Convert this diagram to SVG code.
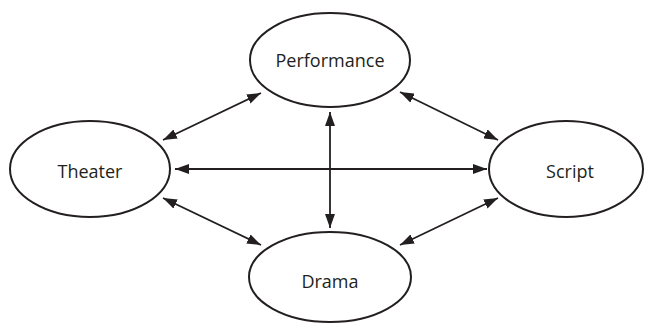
<svg xmlns="http://www.w3.org/2000/svg" width="646" height="324" viewBox="0 0 646 324">
<style>
.node ellipse{fill:#fff;stroke:#231f20;stroke-width:2}
.node text{font-family:"Open Sans","Noto Sans",sans-serif;font-size:18px;fill:#231f20;text-anchor:middle;dominant-baseline:central}
.edge{stroke:#231f20;stroke-width:1.8;fill:none;marker-start:url(#a);marker-end:url(#a)}
</style>
<defs>
<marker id="a" viewBox="0 0 14 10" refX="14" refY="5" markerWidth="14" markerHeight="10" markerUnits="userSpaceOnUse" orient="auto-start-reverse">
<path d="M0,0 L14,5 L0,10 z" fill="#231f20"/>
</marker>
</defs>
<g id="connectors">
<line class="edge" x1="163" y1="140" x2="261" y2="93"/>
<line class="edge" x1="400" y1="92" x2="498" y2="140"/>
<line class="edge" x1="163" y1="198" x2="261" y2="245"/>
<line class="edge" x1="400" y1="245" x2="498" y2="198"/>
<line class="edge" x1="175" y1="169" x2="487" y2="169"/>
<line class="edge" x1="330" y1="112" x2="330" y2="228"/>
</g>
<g id="performance" class="node"><ellipse cx="330" cy="60" rx="80" ry="47"/><text x="330" y="60">Performance</text></g>
<g id="theater" class="node"><ellipse cx="90" cy="169" rx="80" ry="48"/><text x="90" y="171">Theater</text></g>
<g id="script" class="node"><ellipse cx="566" cy="169" rx="77" ry="48"/><text x="570" y="171">Script</text></g>
<g id="drama" class="node"><ellipse cx="330" cy="277" rx="81" ry="45"/><text x="330" y="281">Drama</text></g>
</svg>
